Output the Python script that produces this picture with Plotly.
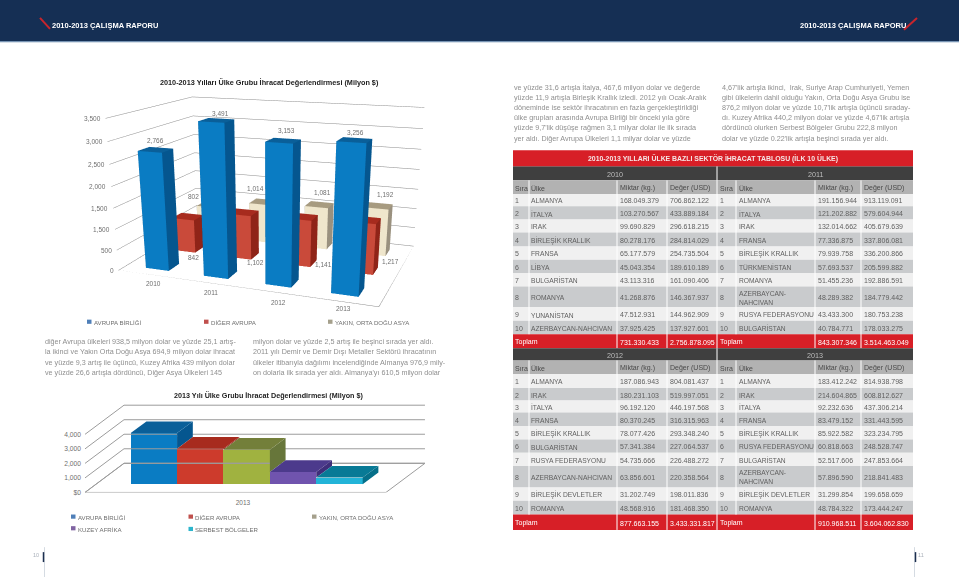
import plotly.graph_objects as go

W, H = 959, 580
FONT = "Liberation Sans"
GREY_TEXT = "#8f8f8f"
AXIS_TEXT = "#6f6f6f"

# ---------------- data ----------------
YEARS = ["2010", "2011", "2012", "2013"]
AB = [2766, 3491, 3153, 3256]
DIGER = [842, 1102, 1141, 1217]
YAKIN = [802, 1014, 1081, 1192]
Z_TICKS = [0, 500, 1000, 1500, 2000, 2500, 3000, 3500]
Z_LABELS = ["0", "500", "1,500", "1,500", "2,000", "2,500", "3,000", "3,500"]

GROUPS_2013 = ["AVRUPA BİRLİĞİ", "DİĞER AVRUPA", "YAKIN, ORTA DOĞU ASYA", "KUZEY AFRİKA", "SERBEST BÖLGELER"]
VALUES_2013 = [3520, 2446, 2377, 846, 457]
TICKS_2013 = [0, 1000, 2000, 3000, 4000]
TICKLABELS_2013 = ["$0", "1,000", "2,000", "3,000", "4,000"]

HEAD = ["Sıra", "Ülke", "Miktar (kg.)", "Değer (USD)"]
RANK = ["1", "2", "3", "4", "5", "6", "7", "8", "9", "10", "Toplam"]
C10 = ["ALMANYA", "İTALYA", "IRAK", "BİRLEŞİK KRALLIK", "FRANSA", "LİBYA", "BULGARİSTAN", "ROMANYA", "YUNANİSTAN", "AZERBAYCAN-NAHCIVAN", ""]
K10 = ["168.049.379", "103.270.567", "99.690.829", "80.278.176", "65.177.579", "45.043.354", "43.113.316", "41.268.876", "47.512.931", "37.925.425", "731.330.433"]
V10 = ["706.862.122", "433.889.184", "296.618.215", "284.814.029", "254.735.504", "189.610.189", "161.090.406", "146.367.937", "144.962.909", "137.927.601", "2.756.878.095"]
C11 = ["ALMANYA", "İTALYA", "IRAK", "FRANSA", "BİRLEŞİK KRALLIK", "TÜRKMENİSTAN", "ROMANYA", "AZERBAYCAN-<br>NAHCIVAN", "RUSYA FEDERASYONU", "BULGARİSTAN", ""]
K11 = ["191.156.944", "121.202.882", "132.014.662", "77.336.875", "79.939.758", "57.693.537", "51.455.236", "48.289.382", "43.433.300", "40.784.771", "843.307.346"]
V11 = ["913.119.091", "579.604.944", "405.679.639", "337.806.081", "336.200.866", "205.599.882", "192.886.591", "184.779.442", "180.753.238", "178.033.275", "3.514.463.049"]
C12 = ["ALMANYA", "IRAK", "İTALYA", "FRANSA", "BİRLEŞİK KRALLIK", "BULGARİSTAN", "RUSYA FEDERASYONU", "AZERBAYCAN-NAHCIVAN", "BİRLEŞİK DEVLETLER", "ROMANYA", ""]
K12 = ["187.086.943", "180.231.103", "96.192.120", "80.370.245", "78.077.426", "57.341.384", "54.735.666", "63.856.601", "31.202.749", "48.568.916", "877.663.155"]
V12 = ["804.081.437", "519.997.051", "446.197.568", "316.315.963", "293.348.240", "227.064.537", "226.488.272", "220.358.564", "198.011.836", "181.468.350", "3.433.331.817"]
C13 = ["ALMANYA", "IRAK", "İTALYA", "FRANSA", "BİRLEŞİK KRALLIK", "RUSYA FEDERASYONU", "BULGARİSTAN", "AZERBAYCAN-<br>NAHCIVAN", "BİRLEŞİK DEVLETLER", "ROMANYA", ""]
K13 = ["183.412.242", "214.604.865", "92.232.636", "83.479.152", "85.922.582", "60.818.663", "52.517.606", "57.896.590", "31.299.854", "48.784.322", "910.968.511"]
V13 = ["814.938.798", "608.812.627", "437.306.214", "331.443.595", "323.234.795", "248.528.747", "247.853.664", "218.841.483", "199.658.659", "173.444.247", "3.604.062.830"]

BODY_LEFT_1 = ["diğer Avrupa ülkeleri 938,5 milyon dolar ve yüzde 25,1 artış-",
               "la ikinci ve Yakın Orta Doğu Asya 694,9 milyon dolar ihracat",
               "ve yüzde 9,3 artış ile üçüncü, Kuzey Afrika 439 milyon dolar",
               "ve yüzde 26,6 artışla dördüncü, Diğer Asya Ülkeleri 145"]
BODY_LEFT_2 = ["milyon dolar ve yüzde 2,5 artış ile beşinci sırada yer aldı.",
               "2011 yılı Demir ve Demir Dışı Metaller Sektörü ihracatının",
               "ülkeler itibarıyla dağılımı incelendiğinde Almanya 976,9 mily-",
               "on dolarla ilk sırada yer aldı. Almanya'yı 610,5 milyon dolar"]
BODY_RIGHT_1 = ["ve yüzde 31,6 artışla İtalya, 467,6 milyon dolar ve değerde",
                "yüzde 11,9 artışla Birleşik Krallık izledi. 2012 yılı Ocak-Aralık",
                "döneminde ise sektör ihracatının en fazla gerçekleştirildiği",
                "ülke grupları arasında Avrupa Birliği bir önceki yıla göre",
                "yüzde 9,7'lik düşüşe rağmen 3,1 milyar dolar ile ilk sırada",
                "yer aldı. Diğer Avrupa Ülkeleri 1,1 milyar dolar ve yüzde"]
BODY_RIGHT_2 = ["4,67'lik artışla ikinci,  Irak, Suriye Arap Cumhuriyeti, Yemen",
                "gibi ülkelerin dahil olduğu Yakın, Orta Doğu Asya Grubu ise",
                "876,2 milyon dolar ve yüzde 10,7'lik artışla üçüncü sıraday-",
                "dı. Kuzey Afrika 440,2 milyon dolar ve yüzde 4,67'lik artışla",
                "dördüncü olurken Serbest Bölgeler Grubu 222,8 milyon",
                "dolar ve yüzde 0.22'lik artışla beşinci sırada yer aldı."]

# ---------------- helpers ----------------
def X(px):
    return px / W

def Y(py):
    return 1 - py / H

shapes, annos = [], []

def rect(x0, y0, x1, y1, color, layer="below"):
    shapes.append(dict(type="rect", xref="paper", yref="paper", x0=X(x0), x1=X(x1), y0=Y(y0), y1=Y(y1),
                       fillcolor=color, line=dict(width=0), layer=layer))

def seg(x0, y0, x1, y1, color, width=1, layer="above"):
    shapes.append(dict(type="line", xref="paper", yref="paper", x0=X(x0), x1=X(x1), y0=Y(y0), y1=Y(y1),
                       line=dict(color=color, width=width), layer=layer))

def text(x, y, s, size=7.2, color=GREY_TEXT, anchor="left", family=FONT):
    dx = -0.7 if anchor == "left" else 0
    annos.append(dict(xref="paper", yref="paper", x=X(x + dx), y=Y(y + 0.8), text=s, showarrow=False, xanchor=anchor,
                      yanchor="middle", align=anchor, borderpad=0, font=dict(family=family, size=size, color=color)))

fig = go.Figure()

# ---------------- page furniture ----------------
rect(0, 0, W, 41.5, "#152f54")
rect(0, 41.5, W, 42.5, "#5f82a8")
seg(40, 18, 50, 29, "#c8252c", 2)
seg(917, 18, 904, 30, "#c8252c", 2)
HEADER = "<b>2010-2013 ÇALIŞMA RAPORU</b>"
text(51.5, 25, HEADER, 7.5, "#ffffff")
text(799.5, 25, HEADER, 7.5, "#ffffff")
seg(44.5, 550, 44.5, 580, "#d5dbe2", 1)
seg(43.5, 555, 43.5, 565, "#1c2f4f", 1.5)
seg(914.5, 550, 914.5, 580, "#d5dbe2", 1)
seg(915.5, 555, 915.5, 565, "#1c2f4f", 1.5)
text(40, 557, "10", 5.5, "#a9b0ba", "right")
text(918, 557, "11", 5.5, "#a9b0ba")

for col, x0, y0, dy in ((BODY_LEFT_1, 44.3, 342.6, 10.25), (BODY_LEFT_2, 253, 342.6, 10.25),
                        (BODY_RIGHT_1, 513.3, 87, 10.2), (BODY_RIGHT_2, 721.5, 87, 10.2)):
    for i, line in enumerate(col):
        text(x0, y0 + i * dy, line)

# ---------------- chart 1: 3D bars in a gl3d scene ----------------
text(269, 82.3, "<b>2010-2013 Yılları Ülke Grubu İhracat Değerlendirmesi (Milyon $)</b>", 7.27, "#222222", "center")

XR, YR, ZR = [-0.544, 3.543], [-0.5, 2.5], [0, 3500]
BAR_HALF_X = 0.201
BAR_Y0, BAR_Y1 = -0.236, 0.134

def cuboid(xc, depth, h, front, side, top, name):
    x0, x1, y0, y1 = xc - BAR_HALF_X, xc + BAR_HALF_X, BAR_Y0 + depth, BAR_Y1 + depth
    xs = [x0, x1, x1, x0, x0, x1, x1, x0]
    ys = [y0, y0, y1, y1, y0, y0, y1, y1]
    zs = [0, 0, 0, 0, h, h, h, h]
    i = [0, 0, 1, 1, 4, 4, 3, 3, 0, 0, 2, 2]
    j = [1, 5, 2, 6, 5, 6, 2, 6, 3, 7, 3, 7]
    k = [5, 4, 6, 5, 6, 7, 6, 7, 7, 4, 7, 6]
    cols = [front, front, side, side, top, top, side, side, side, side, side, side]
    return go.Mesh3d(x=xs, y=ys, z=zs, i=i, j=j, k=k, facecolor=cols, flatshading=True, name=name,
                     lighting=dict(ambient=1, diffuse=0, specular=0, fresnel=0), scene="scene", hoverinfo="name+z")

SERIES = [("AVRUPA BİRLİĞİ", AB, 0, "#0a7cc3", "#05568f", "#0a5f99"),
          ("DİĞER AVRUPA", DIGER, 1, "#c94a3a", "#8f2418", "#a72b1e"),
          ("YAKIN, ORTA DOĞU ASYA", YAKIN, 2, "#efe6cc", "#9a917f", "#a79b80")]
for name, vals, depth, front, side, top in reversed(SERIES):
    for idx, v in enumerate(vals):
        fig.add_trace(cuboid(idx, depth, v, front, side, top, name))

fig.add_trace(go.Scatter3d(x=[XR[0], XR[1], XR[1], XR[0], XR[0]], y=[YR[0], YR[0], YR[1], YR[1], YR[0]], z=[0] * 5,
                           mode="lines", line=dict(color="#8a8a8a", width=1), hoverinfo="skip", showlegend=False, scene="scene"))

scene_annos = []
def lab(x, y, z, s, ys=7, xs=0, anchor="center"):
    scene_annos.append(dict(x=x, y=y, z=z, text=s, showarrow=False, yshift=ys, xshift=xs, xanchor=anchor,
                            font=dict(family=FONT, size=6.5, color=AXIS_TEXT)))
SHIFT_AB = [(6, 11), (9, 9), (8, 12), (4, 10)]
SHIFT_DIGER = [(3, -9.6), (10.5, -8), (20.6, -3), (27, 7)]
SHIFT_YAKIN = [(-19, 7.5), (-9, 13), (2, 11.6), (7, 11)]
SHIFT_YEAR = [(4, -9), (2, -10), (6, -11), (3, -7)]
for idx in range(4):
    lab(idx, BAR_Y0, AB[idx], f"{AB[idx]:,}", SHIFT_AB[idx][1], SHIFT_AB[idx][0])
    lab(idx, 1, 0, f"{DIGER[idx]:,}", SHIFT_DIGER[idx][1], SHIFT_DIGER[idx][0])
    lab(idx, 2, YAKIN[idx], f"{YAKIN[idx]:,}", SHIFT_YAKIN[idx][1], SHIFT_YAKIN[idx][0])
    lab(idx, -0.5, 0, YEARS[idx], SHIFT_YEAR[idx][1], SHIFT_YEAR[idx][0])
for t, s in zip(Z_TICKS, Z_LABELS):
    lab(XR[0] + 0.001, YR[0] + 0.001, min(max(t, 1), 3499), s, 0, -3, "right")

hidden = dict(showbackground=False, showgrid=False, zeroline=False, showticklabels=False, showspikes=False,
              ticks="", title=dict(text=""), showline=False)
fig.update_layout(scene=dict(
    domain=dict(x=[0, X(540)], y=[0, 1]),
    xaxis=dict(hidden, range=XR),
    yaxis=dict(hidden, range=YR),
    zaxis=dict(showbackground=False, showgrid=True, gridcolor="#8a8a8a", gridwidth=1, zeroline=False, showspikes=False,
               ticks="", range=ZR, tickvals=Z_TICKS, ticktext=Z_LABELS, showticklabels=False, title=dict(text=""), showline=False),
    aspectmode="manual", aspectratio=dict(x=1.767, y=1.203, z=1.0),
    camera=dict(eye=dict(x=1.594, y=-4.353, z=1.128), center=dict(x=0.158, y=-0.489, z=-0.528),
                up=dict(x=0.001, y=0.003, z=1), projection=dict(type="perspective")),
    annotations=scene_annos,
    bgcolor="rgba(0,0,0,0)"))

for x0, label, col in ((87, "AVRUPA BİRLİĞİ", "#4f7fb8"), (204, "DİĞER AVRUPA", "#c0504d"), (328, "YAKIN, ORTA DOĞU ASYA", "#a5a08c")):
    rect(x0, 321.3, x0 + 4.5, 325.5, col)
    text(x0 + 7, 323.3, label, 6.1, AXIS_TEXT)

# ---------------- chart 2: bars on cartesian axes with oblique depth ----------------
text(268.7, 396.8, "<b>2013 Yılı Ülke Grubu İhracat Değerlendirmesi (Milyon $)</b>", 7.2, "#222222", "center")

PX_PER_BAR = 46.4
PX_PER_K = 14.6
DEPTH_FLOOR_X, DEPTH_FLOOR_Y = 39 / PX_PER_BAR, 29.3 / PX_PER_K * 1000
DEPTH_BAR_X, DEPTH_BAR_Y = 15.7 / PX_PER_BAR, 11.7 / PX_PER_K * 1000
BASE = 8.3 / PX_PER_K * 1000
XL, XFR, XBR = -1.485, 5.002, 5.843
COLS2 = [("#0a7cc3", "#05568f", "#0a5f99"), ("#cd3b2c", "#8f2418", "#a72b1e"), ("#a0b240", "#67763a", "#737f3a"),
         ("#7054ae", "#3f2e7a", "#4c3a8c"), ("#22b4d8", "#066f89", "#087a96")]

line2 = dict(color="#9c9c9c", width=1)
fig.add_trace(go.Scatter(x=[XL, XFR, XFR + DEPTH_FLOOR_X, XL + DEPTH_FLOOR_X, XL], y=[0, 0, DEPTH_FLOOR_Y, DEPTH_FLOOR_Y, 0],
                         mode="lines", line=line2, xaxis="x", yaxis="y", hoverinfo="skip", showlegend=False))
for t in TICKS_2013:
    fig.add_trace(go.Scatter(x=[XL, XL + DEPTH_FLOOR_X, XBR], y=[t, t + DEPTH_FLOOR_Y, t + DEPTH_FLOOR_Y], mode="lines",
                             line=line2, xaxis="x", yaxis="y", hoverinfo="skip", showlegend=False))
for i, (name, v) in enumerate(zip(GROUPS_2013, VALUES_2013)):
    front, side, top = COLS2[i]
    fig.add_trace(go.Bar(x=[i], y=[v], base=BASE, width=1, marker=dict(color=front, line=dict(width=0)), name=name,
                         xaxis="x", yaxis="y", showlegend=False))
    xr, xl = i + 0.5, i - 0.5
    t = BASE + v
    low = BASE + VALUES_2013[i + 1] if i < len(VALUES_2013) - 1 else BASE
    fig.add_trace(go.Scatter(x=[xr, xr + DEPTH_BAR_X, xr + DEPTH_BAR_X, xr, xr],
                             y=[low, low + DEPTH_BAR_Y, t + DEPTH_BAR_Y, t, low], mode="lines", fill="toself",
                             fillcolor=side, line=dict(width=0), xaxis="x", yaxis="y", hoverinfo="skip", showlegend=False))
    fig.add_trace(go.Scatter(x=[xl, xr, xr + DEPTH_BAR_X, xl + DEPTH_BAR_X, xl],
                             y=[t, t, t + DEPTH_BAR_Y, t + DEPTH_BAR_Y, t], mode="lines", fill="toself",
                             fillcolor=top, line=dict(width=0), xaxis="x", yaxis="y", hoverinfo="skip", showlegend=False))

fig.update_layout(
    xaxis=dict(domain=[X(85), X(426)], range=[XL, 5.865], showgrid=False, zeroline=False, showline=False,
               tickvals=[1.92], ticktext=["2013"], ticks="", ticklabelstandoff=5, tickfont=dict(family=FONT, size=6.5, color=AXIS_TEXT),
               anchor="y", fixedrange=True),
    yaxis=dict(domain=[Y(495), Y(400)], range=[0, 95 / PX_PER_K * 1000], showgrid=False, zeroline=False, showline=False,
               tickvals=TICKS_2013, ticktext=TICKLABELS_2013, ticks="", ticklabelstandoff=3, tickfont=dict(family=FONT, size=6.7, color=AXIS_TEXT),
               anchor="x", fixedrange=True),
    bargap=0)

for x0, y0, label, col, tx in ((71, 519.3, GROUPS_2013[0], "#4f7fb8", 77.7), (188.5, 519.3, GROUPS_2013[1], "#c0504d", 195),
                               (312, 519.3, GROUPS_2013[2], "#a5a08c", 318.5), (71, 531, GROUPS_2013[3], "#8064a2", 77.7),
                               (188.5, 531.7, GROUPS_2013[4], "#2cb5cc", 195)):
    rect(x0, y0 - 2.1, x0 + 4.5, y0 + 2.1, col)
    text(tx, y0, label, 6.1, AXIS_TEXT)

# ---------------- table ----------------
TX0, TX1 = 513, 913
RED, DARK, HEADG = "#d71f27", "#3f3f3f", "#b2b2b2"
ROW_L, ROW_D = "#f0f0f0", "#c9cbcd"
EDGES = [529, 617, 667, 717, 736, 815, 861]
TEXT_L = [515, 531, 619.3, 669.7]
TEXT_R = [720, 739, 818, 864]
CELL = "#5f5f5f"

def block(years, rows_y, top_y, d1, d2):
    y_head = rows_y[0] - 13.7
    rect(TX0, top_y, TX1, y_head, DARK)
    rect(TX0, y_head, TX1, rows_y[0], HEADG)
    text(615, (top_y + y_head) / 2, years[0], 7.2, "#bdbdbd", "center")
    text(815, (top_y + y_head) / 2, years[1], 7.2, "#bdbdbd", "center")
    for tx in (TEXT_L, TEXT_R):
        for x, h in zip(tx, HEAD):
            text(x, rows_y[0] - 6.8, h, 7.0, "#4a4a4a")
    for r in range(11):
        y0, y1 = rows_y[r], rows_y[r + 1]
        fill = RED if r == 10 else (ROW_L if r % 2 == 0 else ROW_D)
        rect(TX0, y0, TX1, y1, fill)
        ym = (y0 + y1) / 2
        col = "#ffffff" if r == 10 else CELL
        for tx, d in ((TEXT_L, d1), (TEXT_R, d2)):
            text(tx[0], ym, RANK[r], 7.0, col)
            if d[0][r]:
                text(tx[1], ym, d[0][r], 6.7, col)
            text(tx[2], ym, d[1][r], 7.0, col)
            text(tx[3], ym, d[2][r], 7.0, col)
    for x in EDGES:
        bottom = rows_y[10] if x in (529, 736) else rows_y[11]
        seg(x, y_head if x != 717 else top_y, x, bottom, "#ffffff", 1, "below")

ROWS_A = [195, 207.3, 220.7, 233.7, 247.7, 261, 274.3, 288, 308.7, 322.3, 336, 350]
ROWS_B = [376, 390, 402.7, 414.7, 428.3, 441.7, 455, 468.3, 490, 503.3, 517.3, 532.7]
block(YEARS[:2], ROWS_A, 167, (C10, K10, V10), (C11, K11, V11))
block(YEARS[2:], ROWS_B, 350, (C12, K12, V12), (C13, K13, V13))

rect(TX0, 151, TX1, 167, RED)
text(713, 158.5, "<b>2010-2013 YILLARI ÜLKE BAZLI SEKTÖR İHRACAT TABLOSU (İLK 10 ÜLKE)</b>", 6.9, "#f6e6e6", "center")

fig.update_layout(width=W, height=H, margin=dict(l=0, r=0, t=0, b=0), paper_bgcolor="#ffffff", plot_bgcolor="rgba(0,0,0,0)",
                  shapes=shapes, annotations=annos, showlegend=False)
fig.write_html("out.html", post_script="document.body.style.margin='0';", config=dict(displayModeBar=False))
